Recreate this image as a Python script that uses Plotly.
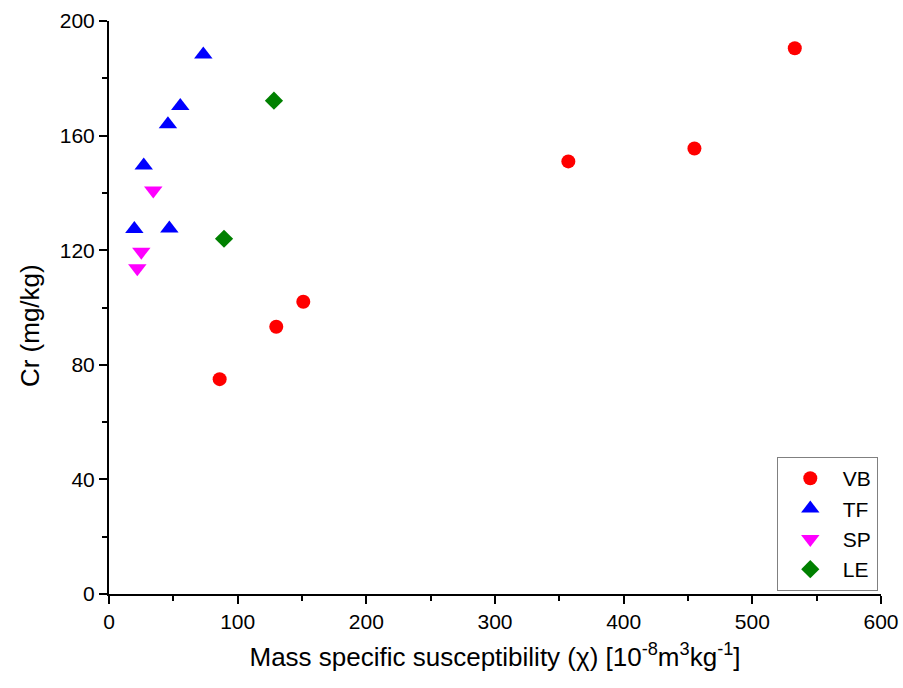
import plotly.graph_objects as go

vb_x = [86, 130, 151, 357, 455, 533]
vb_y = [75, 93.3, 102, 151, 155.5, 190.5]
tf_x = [73.3, 55.4, 45.8, 27, 19.7, 46.9]
tf_y = [188.3, 170.3, 164, 149.6, 127.4, 127.6]
sp_x = [34.4, 25.1, 22]
sp_y = [140.8, 119.5, 113.7]
le_x = [128.2, 89.4]
le_y = [172.2, 124]

font = "Liberation Sans, Arial, sans-serif"

fig = go.Figure()
fig.add_trace(go.Scatter(x=vb_x, y=vb_y, mode="markers", name="VB",
                         marker=dict(symbol="circle", size=14, color="#ff0000")))
fig.add_trace(go.Scatter(x=tf_x, y=tf_y, mode="markers", name="TF",
                         marker=dict(symbol="triangle-up", size=16, color="#0000ff")))
fig.add_trace(go.Scatter(x=sp_x, y=sp_y, mode="markers", name="SP",
                         marker=dict(symbol="triangle-down", size=16, color="#ff00ff")))
fig.add_trace(go.Scatter(x=le_x, y=le_y, mode="markers", name="LE",
                         marker=dict(symbol="diamond", size=14, color="#008000")))

fig.update_layout(
    width=903, height=688,
    margin=dict(l=109, r=22, t=21, b=94),
    plot_bgcolor="white", paper_bgcolor="white",
    font=dict(family=font, size=21, color="black"),
    showlegend=True,
    legend=dict(x=0.865, y=0.005, xanchor="left", yanchor="bottom",
                bordercolor="#808080", borderwidth=1,
                font=dict(size=21), itemwidth=55, tracegroupgap=0,
                bgcolor="white"),
    xaxis=dict(range=[0, 600], tickvals=[0, 100, 200, 300, 400, 500, 600],
               showgrid=False, zeroline=False, showline=True, linecolor="black",
               linewidth=2, ticks="outside", ticklen=8, tickwidth=2, tickcolor="black",
               minor=dict(tickvals=[50, 150, 250, 350, 450, 550], ticks="outside",
                          ticklen=5, tickwidth=2, tickcolor="black"),
               tickfont=dict(size=21), automargin=False,
               title=dict(text="Mass specific susceptibility (χ) [10<sup>-8</sup>m<sup>3</sup>kg<sup>-1</sup>]",
                          font=dict(size=26), standoff=16)),
    yaxis=dict(range=[0, 200], tickvals=[0, 40, 80, 120, 160, 200],
               showgrid=False, zeroline=False, showline=True, linecolor="black",
               linewidth=2, ticks="outside", ticklen=8, tickwidth=2, tickcolor="black",
               minor=dict(tickvals=[20, 60, 100, 140, 180], ticks="outside",
                          ticklen=5, tickwidth=2, tickcolor="black"),
               tickfont=dict(size=21), automargin=False),
    annotations=[dict(text="Cr (mg/kg)", textangle=-90, xref="paper", yref="paper",
                      x=-0.102, y=0.468, xanchor="center", yanchor="middle",
                      showarrow=False, font=dict(size=26))],
)

fig.write_html("out.html")
